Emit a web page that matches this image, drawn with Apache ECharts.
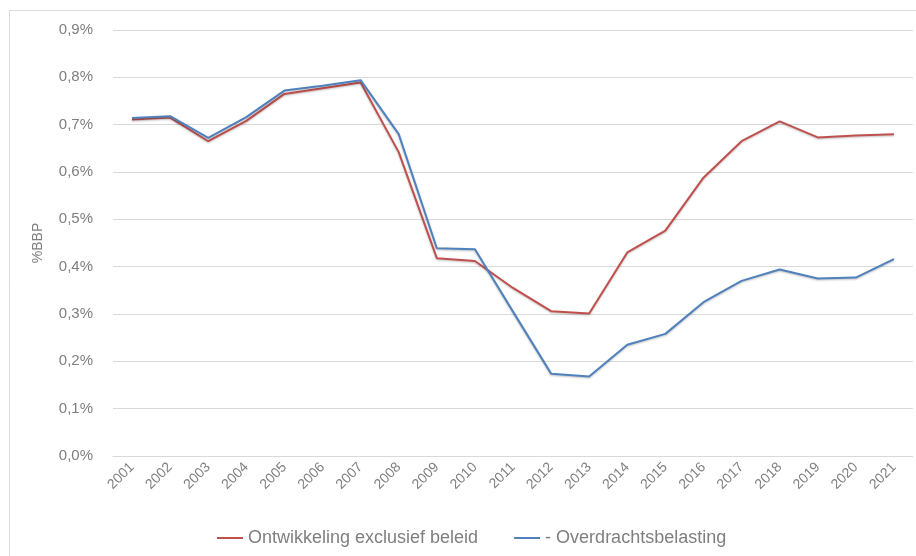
<!DOCTYPE html>
<html><head><meta charset="utf-8">
<script src="https://cdn.jsdelivr.net/npm/echarts@6/dist/echarts.min.js"></script>
<style>html,body{margin:0;padding:0;background:#fff}#c{width:916px;height:556px}</style>
</head><body><div id="c"></div>
<script>
const years = ['2001','2002','2003','2004','2005','2006','2007','2008','2009','2010','2011','2012','2013','2014','2015','2016','2017','2018','2019','2020','2021'];
const ontwikkeling = [0.711,0.715,0.665,0.708,0.765,0.777,0.789,0.642,0.418,0.412,0.355,0.306,0.301,0.430,0.476,0.588,0.665,0.707,0.673,0.677,0.680];
const overdracht = [0.714,0.718,0.672,0.716,0.772,0.782,0.794,0.680,0.439,0.437,0.305,0.174,0.168,0.235,0.258,0.325,0.370,0.394,0.375,0.377,0.416];
const yTicks = [0,0.1,0.2,0.3,0.4,0.5,0.6,0.7,0.8,0.9];

const chart = echarts.init(document.getElementById('c'));
const font = 'Liberation Sans, Arial, sans-serif';
chart.setOption({
  animation:false,
  graphic:[{type:'rect',shape:{x:9.5,y:10.5,width:930,height:570},style:{fill:'none',stroke:'#d9d9d9',lineWidth:1},silent:true}],
  grid:{left:113,right:3,top:30,bottom:100},
  xAxis:{type:'category',data:years,boundaryGap:true,
    axisLine:{lineStyle:{color:'#d9d9d9'}},axisTick:{show:false},
    axisLabel:{rotate:45,color:'#7f7f7f',fontSize:14,fontFamily:font,interval:0,margin:9}},
  yAxis:{type:'value',min:0,max:0.9,interval:0.1,
    name:'%BBP',nameLocation:'middle',nameGap:68,nameRotate:90,
    nameTextStyle:{color:'#7f7f7f',fontSize:14,fontFamily:font},
    axisLine:{show:false},axisTick:{show:false},
    splitLine:{lineStyle:{color:'#d9d9d9'}},
    axisLabel:{color:'#7f7f7f',fontSize:15,fontFamily:font,margin:20,
      formatter:v=>{const t=yTicks.find(x=>Math.abs(x-v)<1e-6);return (t!==undefined?t:v).toFixed(1).replace('.',',')+'%';}}},
  legend:{bottom:4,left:212,itemWidth:26,itemHeight:2,itemGap:36,icon:'rect',
    textStyle:{color:'#7f7f7f',fontSize:18,fontFamily:font,padding:[0,0,0,0]},
    data:['Ontwikkeling exclusief beleid','- Overdrachtsbelasting']},
  series:[
    {name:'Ontwikkeling exclusief beleid',type:'line',data:ontwikkeling,symbol:'none',
      lineStyle:{color:'#c0504d',width:2,shadowColor:'rgba(0,0,0,0.25)',shadowBlur:2,shadowOffsetY:1},itemStyle:{color:'#c0504d'}},
    {name:'- Overdrachtsbelasting',type:'line',data:overdracht,symbol:'none',
      lineStyle:{color:'#4f81bd',width:2,shadowColor:'rgba(0,0,0,0.25)',shadowBlur:2,shadowOffsetY:1},itemStyle:{color:'#4f81bd'}}
  ]
});
</script></body></html>
